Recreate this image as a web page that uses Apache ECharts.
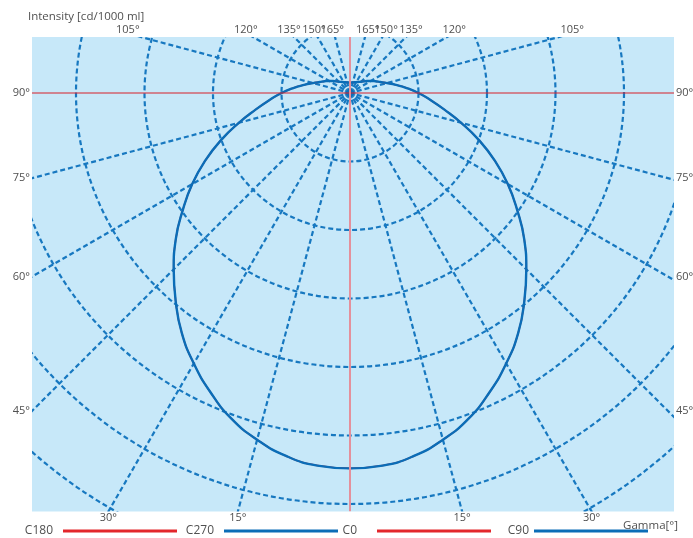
<!DOCTYPE html>
<html><head><meta charset="utf-8">
<script src="https://cdn.jsdelivr.net/npm/echarts@6/dist/echarts.min.js"></script>
<style>html,body{margin:0;padding:0;background:#fff}#c{width:693px;height:538px}</style>
</head><body><div id="c"></div>
<script>
// ---- data ----
const gammaAngles = [0,5,10,15,20,25,30,35,40,45,50,55,60,65,70,75,80,85,90,95,100,105,110,115,120,125,130,135,140,145,150,155,160,165,170,175,180];
const intensityC90C270 = [274,273,269,262,253,241,228,214,198,182,166,149,133,116.5,100,84,70,59,50,41.5,34,28,23.5,20.3,17.6,15.2,13.2,11.7,10.6,9.8,9.2,8.7,8.3,8,7.8,7.7,7.7];
const intensityC0C180 = [274,273,269,262,253,241,228,214,198,182,166,149,133,116.5,100,84,70,59,50,41.5,34,28,23.5,20.3,17.6,15.2,13.2,11.7,10.6,9.8,9.2,8.7,8.3,8,7.8,7.7,7.7];
const gammaTickLabels = [15,30,45,60,75,90,105,120,135,150,165];
const intensityMax = 400, intensityStep = 50, gammaStep = 15;
const legendNames = ['C180','C270','C0','C90'];
const axisTitle = 'Intensity [cd/1000 ml]';
const gammaTitle = 'Gamma[°]';

// ---- layout / style ----
const FONT = 'Open Sans';
const TXT = '#505050';
const RED = '#e3262b', BLUE = '#0b6db7', DASH = '#1778c0', BG = '#c7e8f9';
const cx = 350, cy = 93, L = 32, R = 674, T = 37, B = 511.5;

const chart = echarts.init(document.getElementById('c'), null, {renderer:'canvas'});

const toLeft = arr => gammaAngles.map((a,i)=>[arr[i], a]);
const toRight = arr => gammaAngles.map((a,i)=>[arr[i], 360 - a]);

function exitPoint(g){
  const rad = g*Math.PI/180, dx = -Math.sin(rad), dy = Math.cos(rad);
  let t = Infinity, edge = null;
  if (dy > 1e-9){ const v = (B-cy)/dy; if (v < t){ t = v; edge = 'bottom'; } }
  if (dy < -1e-9){ const v = (T-cy)/dy; if (v < t){ t = v; edge = 'top'; } }
  if (dx < -1e-9){ const v = (L-cx)/dx; if (v < t){ t = v; edge = 'side'; } }
  return {x: cx + dx*t, y: cy + dy*t, edge};
}

const texts = [];
function addText(x, y, s, align, size){
  texts.push({type:'text', z:101, x, y, style:{text:s, fill:TXT, font:`${size||11}px "${FONT}"`, align, verticalAlign:'middle'}});
}
gammaTickLabels.forEach(g=>{
  const p = exitPoint(g), s = g + '°';
  if (p.edge === 'bottom'){
    addText(p.x, 518, s, 'center'); addText(2*cx - p.x, 518, s, 'center');
  } else if (p.edge === 'top'){
    let off = (cy - 34) * Math.tan((180-g)*Math.PI/180) + 2;
    if (off < 13) off = 13;
    addText(cx - off, 30, s, 'center'); addText(cx + off, 30, s, 'center');
  } else {
    addText(30, p.y, s, 'right'); addText(676, p.y, s, 'left');
  }
});
addText(28, 17, axisTitle, 'left', 11.5);
addText(678, 526, gammaTitle, 'right', 11.5);

const mask = [
  {x:0,y:0,width:693,height:T},
  {x:0,y:B,width:693,height:538-B},
  {x:0,y:0,width:L,height:538},
  {x:R,y:0,width:693-R,height:538}
].map(s=>({type:'rect', z:100, shape:s, style:{fill:'#fff'}}));

const lineEnds = [177, 338, 491, 648];
const textGaps = [5, 5, 15, 0];

const option = {
  backgroundColor: BG,
  animation: false,
  polar: {center:[cx, cy], radius: 548},
  angleAxis: {
    type:'value', min:0, max:360, interval:gammaStep, startAngle:270, clockwise:true,
    axisLine:{show:false}, axisTick:{show:false}, axisLabel:{show:false},
    splitLine:{show:true, lineStyle:{color:['rgba(0,0,0,0)',DASH,DASH,DASH,DASH,DASH], width:2.2, type:[5,3]}}
  },
  radiusAxis: {
    type:'value', min:0, max:intensityMax, interval:intensityStep,
    axisLine:{show:false}, axisTick:{show:false}, axisLabel:{show:false},
    splitLine:{show:true, lineStyle:{color:DASH, width:2.2, type:[5,3]}}
  },
  legend: legendNames.map((n,i)=>({
    data:[n], right: 693 - lineEnds[i], top: 525, align:'right', orient:'horizontal', z:120,
    itemWidth:114, itemHeight:3, icon:'rect', padding:0, selectedMode:false,
    textStyle:{color:TXT, fontSize:12, fontFamily:FONT, padding:[0,textGaps[i],0,0]}
  })),
  series: [
    {name:'C180', type:'line', coordinateSystem:'polar', data:toLeft(intensityC0C180), symbol:'none', smooth:0.5, itemStyle:{color:RED}, lineStyle:{color:RED, width:1.6}, z:2},
    {name:'C0', type:'line', coordinateSystem:'polar', data:toRight(intensityC0C180), symbol:'none', smooth:0.5, itemStyle:{color:RED}, lineStyle:{color:RED, width:1.6}, z:2},
    {name:'C270', type:'line', coordinateSystem:'polar', data:toLeft(intensityC90C270), symbol:'none', smooth:0.5, itemStyle:{color:BLUE}, lineStyle:{color:BLUE, width:2.4}, z:3},
    {name:'C90', type:'line', coordinateSystem:'polar', data:toRight(intensityC90C270), symbol:'none', smooth:0.5, itemStyle:{color:BLUE}, lineStyle:{color:BLUE, width:2.4}, z:3},
    {name:'centre', type:'scatter', coordinateSystem:'polar', data:[[0,0]], symbol:'circle', symbolSize:11, itemStyle:{color:BLUE}, silent:true, z:4}
  ],
  graphic: [
    {type:'line', z:5, shape:{x1:L, y1:cy, x2:R, y2:cy}, style:{stroke:'#d8202a', lineWidth:1.2}},
    {type:'line', z:6, shape:{x1:cx, y1:T, x2:cx, y2:B}, style:{stroke:'#e4909c', lineWidth:2}},
    ...mask,
    ...texts
  ]
};
chart.setOption(option);
</script></body></html>
